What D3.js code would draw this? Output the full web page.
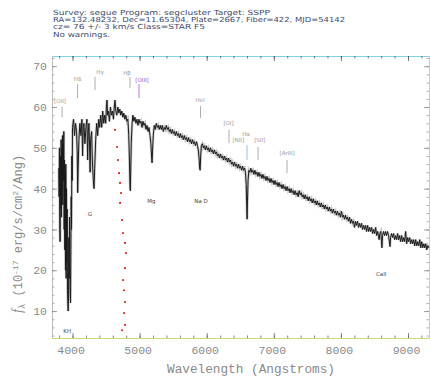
<!DOCTYPE html>
<html><head><meta charset="utf-8">
<script src="https://cdn.jsdelivr.net/npm/d3@7/dist/d3.min.js"></script>
<style>html,body{margin:0;padding:0;background:#fff;}svg{display:block;}</style>
</head><body>
<svg id="c" width="431" height="377"></svg>
<script>
const headerLines = [
  "Survey: segue Program: segcluster Target: SSPP",
  "RA=132.48232, Dec=11.65304, Plate=2667, Fiber=422, MJD=54142",
  "cz= 76 +/- 3 km/s Class=STAR F5",
  "No warnings."
];
const xTickLabels = [4000, 5000, 6000, 7000, 8000, 9000];
const yTickLabels = [10, 20, 30, 40, 50, 60, 70];
// [wavelength (A), flux (1e-17 erg/s/cm2/A)]
const spectrum = [
[3795,45],[3800,38],[3805,50],[3810,30],[3815,27],[3820,48],[3825,35],[3830,52],[3835,33],[3840,50],
[3845,40],[3850,53],[3855,36],[3860,51],[3865,42],[3870,54],[3875,30],[3880,47],[3885,25],[3890,44],
[3895,20],[3900,46],[3905,18],[3910,40],[3915,22],[3920,35],[3925,15],[3930,12],[3935,10],[3940,14],
[3945,28],[3950,18],[3955,33],[3960,20],[3965,14],[3970,12],[3975,25],[3980,38],[3985,30],[3990,48],
[3995,42],[4000,55],[4015,57],[4030,53],[4045,56],[4060,54],[4070,49],[4077,39],[4084,45],[4095,52],
[4110,56],[4125,53],[4140,57],[4150,48],[4160,55],[4170,56],[4185,51],[4200,55],[4215,57],[4225,47],
[4235,54],[4245,56],[4255,50],[4262,44],[4270,52],[4285,54],[4295,47],[4310,42],[4320,40],[4330,45],
[4345,52],[4360,56],[4375,53],[4390,57],[4405,55],[4420,58],[4435,55],[4450,59],[4465,56],[4480,58],
[4495,56],[4505,60],[4514,61.7],[4522,58],[4535,59],[4550,56.5],[4565,60],[4580,58],[4595,59],[4610,57],
[4622,60],[4633,61.7],[4645,59],[4660,58],[4675,60],[4690,58.5],[4705,59.5],[4720,58],[4735,59],[4750,57.5],
[4765,58.5],[4780,57],[4795,58],[4810,56.5],[4825,57],[4838,53],[4848,47],[4856,41],[4861,39.5],[4867,44],
[4875,51],[4888,56],[4900,58],[4915,56.5],[4930,57.5],[4945,56],[4960,57],[4975,55.5],[4990,57],[5005,56],
[5020,56.5],[5035,55],[5050,56.5],[5065,55.5],[5080,56],[5095,54.5],[5110,55.5],[5125,54],[5140,55],[5155,53],
[5168,51],[5178,48],[5185,46.3],[5192,49],[5203,53],[5218,55.5],[5233,54.5],[5248,56],[5263,55],[5278,55.5],
[5293,54.5],[5308,55.5],[5323,54.5],[5338,55.5],[5353,54],[5368,55],[5383,54.5],[5398,55.5],[5413,54.5],[5428,55],
[5443,54],[5458,54.5],[5473,53.5],[5488,54.5],[5503,53.5],[5518,54],[5533,53],[5548,54],[5563,53],[5578,53.5],
[5593,52.5],[5608,53.5],[5623,52.5],[5638,53],[5653,52],[5668,53],[5683,52],[5698,52.5],[5713,51.5],[5728,52.5],
[5743,51.5],[5758,52],[5773,51],[5788,52],[5803,51],[5818,51.5],[5833,50.5],[5848,51.5],[5863,50.5],[5878,49],
[5888,47],[5895,45],[5902,44.5],[5910,48],[5920,50.5],[5935,51],[5950,50],[5965,50.5],[5980,49.5],[5995,50.5],
[6010,49.5],[6025,50],[6040,49],[6055,50],[6070,49],[6085,49.5],[6100,48.5],[6115,49.5],[6130,48.5],[6145,49],
[6160,48],[6175,48.5],[6190,47.5],[6205,48.5],[6220,47.5],[6235,48],[6250,47],[6265,48],[6280,47],[6295,47.5],
[6310,46.5],[6325,47.5],[6340,46.5],[6355,47],[6370,46],[6385,46.5],[6400,45.5],[6415,46.5],[6430,45.5],[6445,46],
[6460,45],[6475,46],[6490,45],[6505,45.5],[6520,44.5],[6535,45.5],[6550,44.5],[6565,45],[6578,44],[6588,41],
[6596,36],[6602,32.5],[6608,37],[6616,42],[6628,44.5],[6643,44],[6658,45],[6673,44],[6688,44.5],[6703,43.5],
[6718,44.5],[6733,43.5],[6748,44],[6763,43],[6778,44],[6793,43],[6808,43.5],[6823,42.5],[6838,43.5],[6853,42.5],
[6868,43],[6883,42],[6898,43],[6913,42],[6928,42.5],[6943,41.5],[6958,42.5],[6973,41.5],[6988,42],[7003,41],
[7018,42],[7033,41],[7048,41.5],[7063,40.5],[7078,41.5],[7093,40.5],[7108,41],[7123,40],[7138,41],[7153,40],
[7168,40.5],[7183,39.5],[7198,40.5],[7213,39.5],[7228,40],[7243,39],[7258,40],[7273,39],[7288,39.5],[7303,38.5],
[7318,39.5],[7333,38.5],[7348,39],[7363,38],[7378,39.5],[7393,38.5],[7408,39],[7423,38],[7438,38.5],[7453,37.5],
[7468,38.5],[7483,37.5],[7498,38],[7513,37],[7528,38],[7543,37],[7558,37.5],[7573,36.5],[7588,37.5],[7603,36.5],
[7618,37],[7633,36],[7648,37],[7663,36],[7678,36.5],[7693,35.5],[7708,36.5],[7723,35.5],[7738,36],[7753,35],
[7768,36],[7783,35],[7798,35.5],[7813,34.5],[7828,35.5],[7843,34.5],[7858,35],[7873,34],[7888,35],[7903,34],
[7918,34.5],[7933,33.5],[7948,34.5],[7963,33.5],[7978,34],[7993,33],[8008,34.5],[8023,33],[8038,33.5],[8053,32.5],
[8068,33.5],[8083,32.5],[8098,33],[8113,32],[8128,33],[8143,31.5],[8158,32.5],[8173,31.5],[8188,32],[8203,30.5],
[8218,32],[8233,31],[8248,32],[8263,30.5],[8278,31.5],[8293,30.5],[8308,31.5],[8323,30],[8338,31],[8353,30],
[8368,31],[8383,29.5],[8398,31],[8413,29.5],[8428,30.5],[8443,29.5],[8458,30.5],[8473,29],[8488,30],[8503,29],
[8518,30.5],[8533,28.5],[8548,29.5],[8560,28.5],[8570,27.5],[8580,29],[8595,29.5],[8605,27],[8612,25.5],[8620,28.5],
[8635,29.5],[8650,28.5],[8665,29.5],[8680,28.5],[8695,29.5],[8710,28.5],[8722,27],[8732,25.8],[8740,28],[8755,29],
[8770,28],[8785,29],[8800,27.5],[8815,28.5],[8830,27.5],[8845,29],[8860,27.5],[8875,28.5],[8890,27],[8905,28.5],
[8920,27],[8935,28],[8950,27],[8965,29.5],[8980,26.5],[8995,28],[9010,27],[9025,28],[9040,26.5],[9055,27.5],
[9070,26.5],[9085,27.5],[9100,26],[9115,27.5],[9130,26],[9145,27],[9160,26],[9175,27.5],[9190,25.5],[9205,27],
[9220,25.5],[9235,26.5],[9250,25.5],[9265,26.5],[9280,25],[9295,26],[9310,25.5]
];
// red dotted trace [wavelength, flux]
const redTrace = [
[4633,54.4],[4663,50.2],[4678,47.0],[4693,43.8],[4708,41.4],[4723,38.9],[4708,36.5],[4738,32.3],[4753,29.1],
[4782,26.7],[4797,24.2],[4782,20.5],[4753,17.6],[4768,15.1],[4782,12.2],[4768,9.5],[4782,6.6],[4738,5.3]
];
// emission line marks above the spectrum:
// [label, label wavelength, label flux, tick wavelength, tick top flux, tick bottom flux, colour]
const emissionLines = [
["[OII]",  3814, 61.0, 3844, 60.0, 57.5, "#999"],
["Hδ",     4075, 66.4, 4075, 65.6, 62.2, "#999"],
["Hγ",     4410, 68.1, 4335, 67.4, 64.2, "#999"],
["Hβ",     4812, 67.8, 4857, 67.4, 64.7, "#999"],
["[OIII]", 5036, 66.1, 4991, 65.6, 62.2, "#a050c8"],
["HeI",    5900, 61.2, 5908, 60.2, 57.3, "#999"],
["[OI]",   6325, 55.6, 6332, 54.4, 51.2, "#999"],
["[NII]",  6470, 51.4, null, null, null, "#999"],
["Hα",     6586, 52.8, 6601, 50.7, 47.0, "#7ab8d8"],
["[SII]",  6790, 51.4, 6765, 50.2, 47.0, "#999"],
["[ArIII]",7198, 48.2, 7197, 47.0, 43.8, "#999"]
];
// absorption line labels below the spectrum: [label, wavelength, flux]
const absorptionLines = [
["KH",3920,4.6],
["G",4260,33.2],
["Mg",5175,36.6],
["Na D",5915,36.6],
["CaII",8600,18.7]
];

const svg = d3.select("#c");
const L = 52, R = 429, T = 56, B = 338;
const x = d3.scaleLinear().domain([3694, 9313]).range([L, R]);
const y = d3.scaleLinear().domain([3.4, 72.5]).range([B, T]);
const mono = "'Liberation Mono', 'DejaVu Sans Mono', monospace";

// header
const hdr = [217, 292, 152, 57];
svg.selectAll("text.hdr").data(headerLines).join("text")
  .attr("class","hdr").attr("x",53).attr("y",(d,i)=>14.5+i*7.4)
  .attr("font-family","'DejaVu Sans', sans-serif").attr("font-size",7)
  .attr("fill","#3c4a6a").attr("textLength",(d,i)=>hdr[i]).attr("lengthAdjust","spacingAndGlyphs")
  .text(d=>d);

// axes
const minorX = d3.range(3800, 9301, 200);
const minorY = d3.range(4, 73, 2);
function styleAxis(g, dom, tick){
  g.select(".domain").attr("stroke",dom).attr("stroke-width",1);
  g.selectAll(".tick line").attr("stroke",tick).attr("stroke-width",0.8);
  g.selectAll(".tick text").attr("fill","#8a8a8a").attr("font-family",mono).attr("font-size",11.5);
}
// bottom
const gb = svg.append("g").attr("transform",`translate(0,${B})`)
  .call(d3.axisBottom(x).tickValues(minorX).tickSize(-2.5).tickSizeOuter(0).tickFormat(""));
styleAxis(gb,"#c6dc70","#667");
const gb2 = svg.append("g").attr("transform",`translate(0,${B})`)
  .call(d3.axisBottom(x).tickValues(xTickLabels).tickSize(-5).tickSizeOuter(0).tickPadding(8).tickFormat(d3.format("d")));
gb2.select(".domain").remove();
styleAxis(gb2,"none","#667");
gb2.selectAll(".tick text").attr("dx",-2);
// top
const gt = svg.append("g").attr("transform",`translate(0,${T})`)
  .call(d3.axisTop(x).tickValues(minorX).tickSize(-2.5).tickSizeOuter(0).tickFormat(""));
styleAxis(gt,"#80d0e6","#555");
const gt2 = svg.append("g").attr("transform",`translate(0,${T})`)
  .call(d3.axisTop(x).tickValues(xTickLabels).tickSize(-5).tickSizeOuter(0).tickFormat(""));
gt2.select(".domain").remove(); styleAxis(gt2,"none","#555");
// left
const gl = svg.append("g").attr("transform",`translate(${L},0)`)
  .call(d3.axisLeft(y).tickValues(minorY).tickSize(-2.5).tickSizeOuter(0).tickFormat(""));
styleAxis(gl,"#bbb","#8aa");
const gl2 = svg.append("g").attr("transform",`translate(${L},0)`)
  .call(d3.axisLeft(y).tickValues(yTickLabels).tickSize(-5).tickSizeOuter(0).tickPadding(5).tickFormat(d3.format("d")));
gl2.select(".domain").remove(); styleAxis(gl2,"none","#888");
// right
const gr = svg.append("g").attr("transform",`translate(${R},0)`)
  .call(d3.axisRight(y).tickValues(minorY).tickSize(-2.5).tickSizeOuter(0).tickFormat(""));
styleAxis(gr,"#ccc","#999");
const gr2 = svg.append("g").attr("transform",`translate(${R},0)`)
  .call(d3.axisRight(y).tickValues(yTickLabels).tickSize(-5).tickSizeOuter(0).tickFormat(""));
gr2.select(".domain").remove(); styleAxis(gr2,"none","#888");

// axis titles
svg.append("text").attr("x",167).attr("y",373)
  .attr("font-family",mono).attr("font-size",12.5).attr("fill","#8a8a8a")
  .attr("textLength",168).attr("lengthAdjust","spacingAndGlyphs")
  .text("Wavelength (Angstroms)");
const yt = svg.append("text").attr("transform","translate(22,313) rotate(-90)")
  .attr("font-family",mono).attr("font-size",12).attr("fill","#8a8a8a");
yt.append("tspan").attr("font-style","italic").attr("font-family","'Liberation Serif', serif").attr("font-size",14).text("f");
yt.append("tspan").attr("dy",3).attr("font-size",9).text("λ");
yt.append("tspan").attr("dy",-3).text(" (10");
yt.append("tspan").attr("dy",-4).attr("font-size",8).text("-17");
yt.append("tspan").attr("dy",4).text(" erg/s/cm");
yt.append("tspan").attr("dy",-4).attr("font-size",8).text("2");
yt.append("tspan").attr("dy",4).text("/Ang)");

// spectrum
const plot = svg.append("g");
const line = d3.line().x(d=>x(d[0])).y(d=>y(d[1]));
plot.append("path").datum(spectrum).attr("d",line)
  .attr("fill","none").attr("stroke","#8a8a8a").attr("stroke-width",2.6).attr("opacity",0.45);
plot.append("path").datum(spectrum).attr("d",line)
  .attr("fill","none").attr("stroke","#1a1a1a").attr("stroke-width",1.0);

// red trace
plot.selectAll("circle.red").data(redTrace).join("circle")
  .attr("cx",d=>x(d[0])).attr("cy",d=>y(d[1])).attr("r",1.1).attr("fill","#e02424");

// emission labels
const em = plot.selectAll("g.em").data(emissionLines).join("g");
em.append("text").attr("x",d=>x(d[1])).attr("y",d=>y(d[2]))
  .attr("text-anchor","middle").attr("font-family","'DejaVu Sans', sans-serif").attr("font-size",5.5)
  .attr("fill",d=>d[6]==="#7ab8d8"?"#999":d[6]).text(d=>d[0]);
em.filter(d=>d[3]!==null).append("line")
  .attr("x1",d=>x(d[3])).attr("x2",d=>x(d[3]))
  .attr("y1",d=>y(d[4])).attr("y2",d=>y(d[5]))
  .attr("stroke",d=>d[6]).attr("stroke-width",0.8);

// absorption labels
plot.selectAll("text.ab").data(absorptionLines).join("text")
  .attr("x",d=>x(d[1])).attr("y",d=>y(d[2]))
  .attr("text-anchor","middle").attr("font-family","'DejaVu Sans', sans-serif").attr("font-size",5.5)
  .attr("fill","#444").text(d=>d[0]);
</script>
</body></html>
